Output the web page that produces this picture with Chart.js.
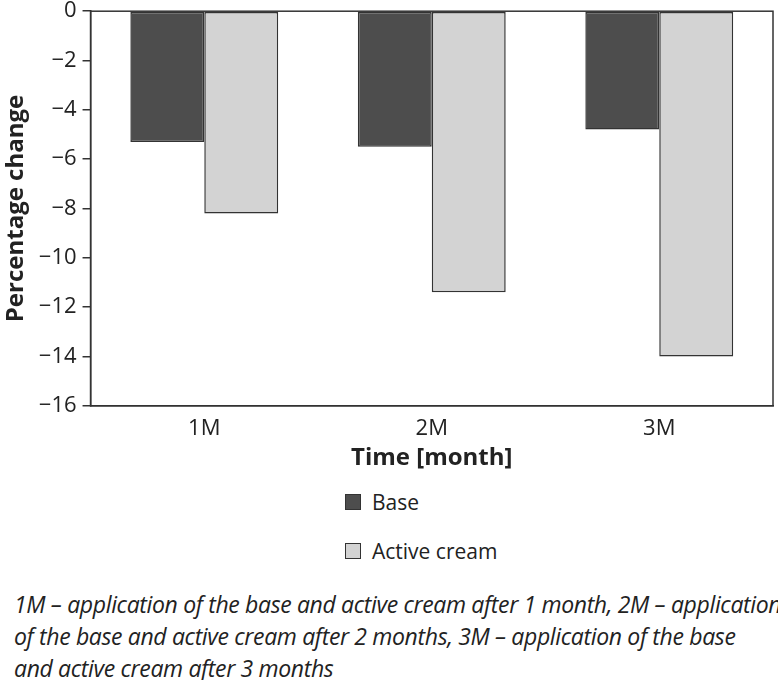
<!DOCTYPE html>
<html>
<head>
<meta charset="utf-8">
<script src="https://cdn.jsdelivr.net/npm/chart.js@4"></script>
<style>
  body { margin: 0; background: #fff; font-family: "Open Sans", sans-serif; color: #222; }
  #wrap { width: 778px; height: 485px; position: relative; margin-top: -8px; }
  #legend { margin-left: 345px; margin-top: 0; }
  .item { display: flex; align-items: center; height: 49px; font-size: 21px; }
  .box { width: 16px; height: 16px; border: 1.5px solid #333; margin-right: 11px; box-sizing: border-box; }
  #caption { font-style: italic; font-size: 23px; line-height: 32px; margin: 13px 0 0 14px; letter-spacing: -0.35px; white-space: nowrap; }
</style>
</head>
<body>
<div id="wrap"><canvas id="graph"></canvas></div>
<div id="legend"></div>
<div id="caption">1M – application of the base and active cream after 1 month, 2M – application<br>of the base and active cream after 2 months, 3M – application of the base<br>and active cream after 3 months</div>
<script>
var months = ['1M', '2M', '3M'];
var seriesNames = ['Base', 'Active cream'];
var baseVals = [-5.3, -5.5, -4.8];
var activeVals = [-8.2, -11.4, -14.0];
var colors = ['#4d4d4d', '#d3d3d3'];

// frame around the plot area (top + right edges)
const frame = {
    id: 'frame',
    afterDraw(chart) {
        const a = chart.chartArea, c = chart.ctx;
        c.save();
        c.strokeStyle = '#333';
        c.lineWidth = 1.5;
        c.strokeRect(a.left, a.top, a.right - a.left, a.bottom - a.top);
        c.restore();
    }
};

const data = {
    labels: months,
    datasets: [{
        label: seriesNames[0],
        data: baseVals,
        backgroundColor: colors[0],
        borderColor: '#333',
        borderWidth: 1.5,
        borderSkipped: false
    }, {
        label: seriesNames[1],
        data: activeVals,
        backgroundColor: colors[1],
        borderColor: '#333',
        borderWidth: 1.5,
        borderSkipped: false
    }]
};

new Chart(document.getElementById('graph'), {
    type: 'bar',
    data: data,
    plugins: [frame],
    options: {
        responsive: true,
        maintainAspectRatio: false,
        animation: false,
        layout: { padding: { top: 0, right: 5, left: 0 } },
        datasets: { bar: { categoryPercentage: 0.65, barPercentage: 1 } },
        plugins: { legend: { display: false }, tooltip: { enabled: false } },
        scales: {
            x: {
                grid: { display: false },
                border: { color: '#333', width: 1.5 },
                ticks: { color: '#222', font: { family: 'Open Sans', size: 22 }, padding: 2 },
                title: { display: true, text: 'Time [month]', color: '#222', font: { family: 'Open Sans', size: 24, weight: 'bold' }, padding: { top: 0 } }
            },
            y: {
                min: -16,
                max: 0,
                ticks: { stepSize: 2, color: '#222', font: { family: 'Open Sans', size: 22 }, padding: 6,
                    callback: v => v < 0 ? '\u2212' + Math.abs(v) : v },
                grid: { drawOnChartArea: false, drawTicks: true, tickLength: 8, color: '#333', lineWidth: 1.5 },
                border: { color: '#333', width: 1.5 },
                title: { display: true, text: 'Percentage change', color: '#222', font: { family: 'Open Sans', size: 24, weight: 'bold' }, padding: 2 }
            }
        }
    }
});

// legend stacked vertically under the chart
const leg = document.getElementById('legend');
seriesNames.forEach((name, i) => {
    const row = document.createElement('div');
    row.className = 'item';
    row.innerHTML = '<span class="box" style="background:' + colors[i] + '"></span>' + name;
    leg.appendChild(row);
});
</script>
</body>
</html>
